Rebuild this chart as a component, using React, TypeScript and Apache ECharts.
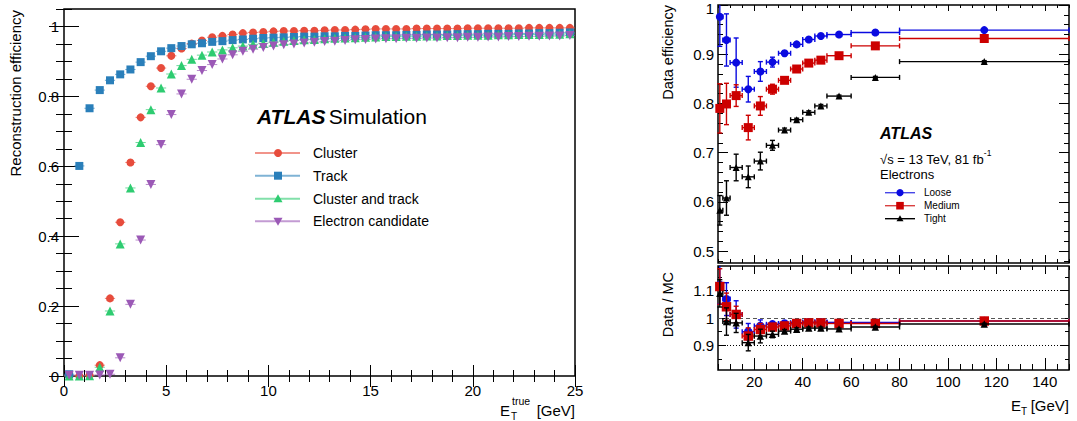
import React, { useEffect, useRef } from 'react';
import * as echarts from 'echarts';

const FONT = "'Liberation Sans', Arial, Helvetica, sans-serif";

// ---------------- Left panel: simulated reconstruction efficiency ----------------
const simBinStart = 0;
const simBinWidth = 0.5;
const simNames = ['Cluster', 'Track', 'Cluster and track', 'Electron candidate'];
const simColors = ['#e74c3c', '#2a7fba', '#2ecc71', '#9b59b6'];
const simLegendLineColors = ['#f1948a', '#7fb3d5', '#82e0aa', '#c39bd3'];
const simCluster = [
  0, 0, 0.002, 0.031, 0.222, 0.44, 0.611, 0.74, 0.829, 0.881,
  0.916, 0.937, 0.951, 0.96, 0.969, 0.973, 0.977, 0.981, 0.983, 0.984,
  0.986, 0.987, 0.987, 0.988, 0.988, 0.989, 0.99, 0.99, 0.991, 0.992,
  0.993, 0.993, 0.993, 0.993, 0.994, 0.994, 0.994, 0.994, 0.994, 0.995,
  0.995, 0.995, 0.995, 0.995, 0.995, 0.996, 0.996, 0.996, 0.996, 0.996,
];
const simTrack = [
  0.005, 0.601, 0.766, 0.818, 0.846, 0.863, 0.877, 0.898, 0.915, 0.929,
  0.938, 0.944, 0.949, 0.952, 0.956, 0.958, 0.961, 0.963, 0.965, 0.967,
  0.968, 0.969, 0.97, 0.971, 0.971, 0.972, 0.972, 0.973, 0.973, 0.974,
  0.975, 0.975, 0.975, 0.976, 0.976, 0.977, 0.977, 0.977, 0.978, 0.978,
  0.978, 0.979, 0.979, 0.979, 0.98, 0.98, 0.981, 0.981, 0.982, 0.983,
];
const simClusterTrack = [
  0, 0, 0.001, 0.025, 0.186, 0.378, 0.538, 0.668, 0.762, 0.824,
  0.864, 0.888, 0.906, 0.918, 0.927, 0.933, 0.939, 0.944, 0.949, 0.952,
  0.955, 0.958, 0.96, 0.962, 0.963, 0.965, 0.966, 0.967, 0.968, 0.969,
  0.97, 0.971, 0.971, 0.972, 0.972, 0.973, 0.973, 0.974, 0.974, 0.975,
  0.975, 0.975, 0.976, 0.976, 0.977, 0.977, 0.977, 0.978, 0.978, 0.979,
];
const simElectron = [
  0.002, 0.002, 0.002, 0.003, 0.005, 0.052, 0.205, 0.389, 0.548, 0.662,
  0.748, 0.807, 0.849, 0.874, 0.891, 0.907, 0.919, 0.929, 0.935, 0.94,
  0.944, 0.948, 0.95, 0.953, 0.955, 0.957, 0.958, 0.96, 0.962, 0.963,
  0.964, 0.965, 0.965, 0.966, 0.966, 0.967, 0.967, 0.968, 0.968, 0.969,
  0.969, 0.97, 0.97, 0.971, 0.971, 0.972, 0.972, 0.973, 0.973, 0.974,
];
const simValues = [simCluster, simTrack, simClusterTrack, simElectron];
const simSymbols = ['circle', 'rect', 'triangle', 'triangle'];
const simRotations = [0, 0, 0, 180];

// ---------------- Right panel: data efficiency and Data/MC ----------------
const etEdges = [4.5, 7, 10, 15, 20, 25, 30, 35, 40, 45, 50, 60, 80, 150];
const wpNames = ['Loose', 'Medium', 'Tight'];
const wpColors = ['#0a0ae0', '#cc0000', '#000000'];
const effLoose = [0.976, 0.929, 0.883, 0.829, 0.865, 0.884, 0.902, 0.92, 0.93, 0.937, 0.94, 0.944, 0.949];
const effLooseErr = [0.06, 0.053, 0.05, 0.026, 0.02, 0.01, 0.005, 0.004, 0.003, 0.003, 0.002, 0.002, 0.002];
const effMedium = [0.79, 0.799, 0.816, 0.751, 0.795, 0.829, 0.847, 0.87, 0.882, 0.888, 0.897, 0.917, 0.932];
const effMediumErr = [0.05, 0.042, 0.022, 0.025, 0.019, 0.01, 0.005, 0.004, 0.003, 0.003, 0.002, 0.002, 0.002];
const effTight = [0.583, 0.608, 0.67, 0.651, 0.683, 0.715, 0.746, 0.767, 0.782, 0.795, 0.815, 0.853, 0.885];
const effTightErr = [0.03, 0.035, 0.027, 0.022, 0.018, 0.01, 0.004, 0.003, 0.003, 0.003, 0.002, 0.002, 0.002];
const ratioLoose = [1.121, 1.069, 1.013, 0.95, 0.971, 0.977, 0.98, 0.983, 0.985, 0.985, 0.984, 0.984, 0.989];
const ratioLooseErr = [0.07, 0.06, 0.05, 0.03, 0.022, 0.01, 0.006, 0.004, 0.004, 0.003, 0.003, 0.003, 0.003];
const ratioMedium = [1.115, 1.041, 1.013, 0.934, 0.958, 0.967, 0.971, 0.98, 0.982, 0.982, 0.98, 0.98, 0.989];
const ratioMediumErr = [0.065, 0.05, 0.03, 0.03, 0.022, 0.012, 0.006, 0.005, 0.004, 0.003, 0.003, 0.003, 0.003];
const ratioTight = [1.09, 0.987, 0.982, 0.91, 0.934, 0.94, 0.952, 0.959, 0.963, 0.963, 0.96, 0.967, 0.978];
const ratioTightErr = [0.05, 0.05, 0.035, 0.03, 0.025, 0.012, 0.006, 0.005, 0.004, 0.004, 0.003, 0.003, 0.003];
const effValues = [effLoose, effMedium, effTight];
const effErrors = [effLooseErr, effMediumErr, effTightErr];
const ratioValues = [ratioLoose, ratioMedium, ratioTight];
const ratioErrors = [ratioLooseErr, ratioMediumErr, ratioTightErr];
const wpSymbols = ['circle', 'rect', 'triangle'];
const wpSizes = [8, 9, 7];
const ratioRefLines = [1.1, 1.0, 0.9];
const effTickLabels = [0.5, 0.6, 0.7, 0.8, 0.9, 1];

// ---------------- helpers ----------------
type AxSpec = {
  grid: number; min: number; max: number; major: number; minor: number;
  majorLen: number; minorLen: number; oppMajorLen: number; oppMinorLen: number;
  labels: boolean; labelStep?: number; fontSize?: number; margin?: number;
};

function fmtNum(v: number) {
  return String(parseFloat(v.toFixed(3)));
}

function multiplesIn(min: number, max: number, step: number) {
  const out: number[] = [];
  const k0 = Math.ceil(min / step - 1e-9);
  for (let k = k0; k * step <= max + 1e-9; k++) out.push(parseFloat((k * step).toFixed(6)));
  return out;
}

function buildAxes(dim: 'x' | 'y', s: AxSpec) {
  const sides = dim === 'x' ? ['bottom', 'top'] : ['left', 'right'];
  const mk = (pos: string, step: number, len: number, withLabels: boolean) => ({
    type: 'value',
    gridIndex: s.grid,
    position: pos,
    min: s.min,
    max: s.max,
    splitNumber: Math.max(1, Math.round((s.max - s.min) / step)),
    minInterval: step,
    maxInterval: step,
    axisLine: { show: false },
    splitLine: { show: false },
    minorTick: { show: false },
    axisTick: {
      show: true,
      inside: true,
      length: len,
      customValues: multiplesIn(s.min, s.max, step),
      lineStyle: { color: '#000', width: 1 },
    },
    axisLabel: withLabels
      ? {
          show: true,
          fontSize: s.fontSize || 15,
          fontFamily: FONT,
          color: '#000',
          margin: s.margin ?? 6,
          showMinLabel: true,
          showMaxLabel: true,
          hideOverlap: false,
          customValues: multiplesIn(s.min, s.max, s.labelStep as number),
          formatter: (v: number) => fmtNum(v),
        }
      : { show: false },
    axisPointer: { show: false },
    silent: true,
  });
  return [
    mk(sides[0], s.major, s.majorLen, s.labels),
    mk(sides[0], s.minor, s.minorLen, false),
    mk(sides[1], s.major, s.oppMajorLen, false),
    mk(sides[1], s.minor, s.oppMinorLen, false),
  ];
}

function makeErrRender(capPx: number, lineWidth: number, opacity: number) {
  return (params: any, api: any) => {
    const cs = params.coordSys;
    const xmin = cs.x, xmax = cs.x + cs.width, ymin = cs.y, ymax = cs.y + cs.height;
    const cx = (v: number) => Math.max(xmin, Math.min(xmax, v));
    const cy = (v: number) => Math.max(ymin, Math.min(ymax, v));
    const xc = api.value(0);
    const yv = api.value(1);
    const pc = api.coord([xc, yv]);
    const pxl = api.coord([api.value(2), yv])[0];
    const pxh = api.coord([api.value(3), yv])[0];
    const pyl = api.coord([xc, api.value(4)])[1];
    const pyh = api.coord([xc, api.value(5)])[1];
    const color = api.visual('color');
    const style = { stroke: color, lineWidth, opacity };
    const children: any[] = [];
    const xa = cx(pxl), xb = cx(pxh);
    children.push({ type: 'line', shape: { x1: xa, y1: pc[1], x2: xb, y2: pc[1] }, style });
    if (capPx > 0) {
      if (xa === pxl) children.push({ type: 'line', shape: { x1: xa, y1: pc[1] - capPx, x2: xa, y2: pc[1] + capPx }, style });
      if (xb === pxh) children.push({ type: 'line', shape: { x1: xb, y1: pc[1] - capPx, x2: xb, y2: pc[1] + capPx }, style });
    }
    const ya = cy(pyh), yb = cy(pyl);
    if (yb - ya > 0.5) {
      children.push({ type: 'line', shape: { x1: pc[0], y1: ya, x2: pc[0], y2: yb }, style });
      if (capPx > 0) {
        if (ya === pyh) children.push({ type: 'line', shape: { x1: pc[0] - capPx, y1: ya, x2: pc[0] + capPx, y2: ya }, style });
        if (yb === pyl) children.push({ type: 'line', shape: { x1: pc[0] - capPx, y1: yb, x2: pc[0] + capPx, y2: yb }, style });
      }
    }
    return { type: 'group', children };
  };
}

const GRID_RECTS = [
  { left: 64, top: 9, width: 511, height: 367 },
  { left: 718, top: 5, width: 351, height: 258 },
  { left: 718, top: 266, width: 351, height: 104 },
];

function buildGraphics() {
  const g: any[] = [];
  const txt = (x: number, y: number, text: string, fontSize: number, extra: any = {}, elExtra: any = {}) => ({
    type: 'text',
    x,
    y,
    ...elExtra,
    style: { text, fontSize, fontFamily: FONT, fill: '#000', textVerticalAlign: 'middle', ...extra },
  });

  // axis titles
  g.push(txt(15, 10, 'Reconstruction efficiency', 15, { textAlign: 'right' }, { rotation: Math.PI / 2 }));
  g.push(txt(668, 5, 'Data efficiency', 14.5, { textAlign: 'right' }, { rotation: Math.PI / 2 }));
  g.push(txt(668, 272, 'Data / MC', 14.5, { textAlign: 'right' }, { rotation: Math.PI / 2 }));
  // left x title E_T^true [GeV]
  g.push(txt(575, 410, '[GeV]', 15, { textAlign: 'right' }));
  g.push(txt(500, 410, 'E', 15, { textAlign: 'left' }));
  g.push(txt(512, 401, 'true', 10.5, { textAlign: 'left' }));
  g.push(txt(511, 416, 'T', 10, { textAlign: 'left' }));
  // right x title E_T [GeV]
  g.push(txt(1069, 405, '[GeV]', 15, { textAlign: 'right' }));
  g.push(txt(1011, 405, 'E', 15, { textAlign: 'left' }));
  g.push(txt(1021, 411, 'T', 10, { textAlign: 'left' }));

  // ATLAS Simulation label
  g.push({
    type: 'text',
    x: 257,
    y: 116,
    style: {
      text: '{a|ATLAS} {b|Simulation}',
      textVerticalAlign: 'middle',
      fill: '#000',
      rich: {
        a: { fontSize: 21, fontWeight: 'bold', fontStyle: 'italic', fontFamily: FONT, fill: '#000' },
        b: { fontSize: 21, fontFamily: FONT, fill: '#000' },
      },
    },
  });

  // left legend
  const simLegendY = [153, 175.7, 198.7, 221.3];
  simNames.forEach((name, s) => {
    const y = simLegendY[s];
    g.push({ type: 'line', shape: { x1: 255, y1: y, x2: 300, y2: y }, style: { stroke: simLegendLineColors[s], lineWidth: 2 } });
    const mx = 278;
    if (s === 0) g.push({ type: 'circle', shape: { cx: mx, cy: y, r: 4 }, style: { fill: simColors[s] } });
    if (s === 1) g.push({ type: 'rect', shape: { x: mx - 4, y: y - 4, width: 8, height: 8 }, style: { fill: simColors[s] } });
    if (s === 2) g.push({ type: 'polygon', shape: { points: [[mx, y - 4.5], [mx + 4.5, y + 3.5], [mx - 4.5, y + 3.5]] }, style: { fill: simColors[s] } });
    if (s === 3) g.push({ type: 'polygon', shape: { points: [[mx, y + 4.5], [mx + 4.5, y - 3.5], [mx - 4.5, y - 3.5]] }, style: { fill: simColors[s] } });
    g.push(txt(313, y, name, 14, { textAlign: 'left' }));
  });

  // right annotations
  g.push(txt(880, 133, 'ATLAS', 16, { textAlign: 'left', fontWeight: 'bold', fontStyle: 'italic' }));
  g.push({
    type: 'text',
    x: 880,
    y: 157,
    style: {
      text: '{m|\u221As = 13 TeV, 81 fb}{s|-1}',
      textVerticalAlign: 'middle',
      fill: '#000',
      rich: {
        m: { fontSize: 13, fontFamily: FONT, fill: '#000', lineHeight: 18, verticalAlign: 'bottom' },
        s: { fontSize: 8.5, fontFamily: FONT, fill: '#000', lineHeight: 18, verticalAlign: 'top' },
      },
    },
  });
  g.push(txt(880, 174.5, 'Electrons', 13, { textAlign: 'left' }));

  // right legend
  const wpLegendY = [192.7, 205.7, 218.7];
  wpNames.forEach((name, s) => {
    const y = wpLegendY[s];
    const col = wpColors[s];
    g.push({ type: 'line', shape: { x1: 885, y1: y, x2: 915, y2: y }, style: { stroke: col, lineWidth: 1.4, opacity: s === 2 ? 1 : 0.75 } });
    const mx = 900;
    if (s === 0) g.push({ type: 'circle', shape: { cx: mx, cy: y, r: 3.6 }, style: { fill: col } });
    if (s === 1) g.push({ type: 'rect', shape: { x: mx - 3.8, y: y - 3.8, width: 7.6, height: 7.6 }, style: { fill: col } });
    if (s === 2) g.push({ type: 'polygon', shape: { points: [[mx, y - 3.5], [mx + 3.5, y + 2.5], [mx - 3.5, y + 2.5]] }, style: { fill: col } });
    g.push(txt(924, y, name, 10, { textAlign: 'left' }));
  });
  return g;
}

function buildOption() {
  const grids = GRID_RECTS.map((g) => ({
    ...g,
    show: true,
    borderColor: '#000',
    borderWidth: 1.5,
    backgroundColor: 'transparent',
    containLabel: false,
  }));

  const xAxes = [
    ...buildAxes('x', { grid: 0, min: 0, max: 25, major: 5, minor: 1, majorLen: 11, minorLen: 6, oppMajorLen: 11, oppMinorLen: 6, labels: true, labelStep: 5, fontSize: 15, margin: 7 }),
    ...buildAxes('x', { grid: 1, min: 5, max: 150, major: 20, minor: 5, majorLen: 8, minorLen: 4, oppMajorLen: 6, oppMinorLen: 3, labels: false }),
    ...buildAxes('x', { grid: 2, min: 5, max: 150, major: 20, minor: 5, majorLen: 12, minorLen: 6, oppMajorLen: 8, oppMinorLen: 4, labels: true, labelStep: 20, fontSize: 15, margin: 4 }),
  ];
  const yAxes = [
    ...buildAxes('y', { grid: 0, min: 0, max: 1.05, major: 0.2, minor: 0.05, majorLen: 15, minorLen: 8, oppMajorLen: 15, oppMinorLen: 8, labels: true, labelStep: 0.2, fontSize: 15, margin: 5 }),
    // labels for this axis are placed from the axis scale after the first render (see App)
    ...buildAxes('y', { grid: 1, min: 0.476, max: 1.0, major: 0.1, minor: 0.02, majorLen: 10, minorLen: 5, oppMajorLen: 10, oppMinorLen: 5, labels: false }),
    ...buildAxes('y', { grid: 2, min: 0.81, max: 1.19, major: 0.1, minor: 0.05, majorLen: 8, minorLen: 4, oppMajorLen: 8, oppMinorLen: 4, labels: true, labelStep: 0.1, fontSize: 15, margin: 4 }),
  ];

  const series: any[] = [];

  // left panel
  const simCenters = simCluster.map((_, i) => simBinStart + simBinWidth * (i + 0.5));
  simValues.forEach((vals, s) => {
    series.push({
      type: 'custom',
      name: simNames[s] + ' err',
      xAxisIndex: 0,
      yAxisIndex: 0,
      silent: true,
      z: 2,
      itemStyle: { color: simColors[s] },
      renderItem: makeErrRender(0, 1, 0.7),
      data: vals.map((v, i) => [simCenters[i], v, simCenters[i] - simBinWidth / 2, simCenters[i] + simBinWidth / 2, v, v]),
    });
    series.push({
      type: 'scatter',
      name: simNames[s],
      xAxisIndex: 0,
      yAxisIndex: 0,
      z: 3,
      symbol: simSymbols[s],
      symbolRotate: simRotations[s],
      symbolSize: s === 0 ? 8 : s === 1 ? 8 : 9,
      itemStyle: { color: simColors[s], opacity: 1 },
      data: vals.map((v, i) => [simCenters[i], v]),
    });
  });

  // right panels
  const etCenters = etEdges.slice(0, -1).map((e, i) => (e + etEdges[i + 1]) / 2);
  const addPanel = (vals: number[][], errs: number[][], xi: number, yi: number, sizeScale: number) => {
    vals.forEach((arr, s) => {
      series.push({
        type: 'custom',
        name: wpNames[s] + ' err',
        xAxisIndex: xi,
        yAxisIndex: yi,
        silent: true,
        z: 2 + s * 2,
        itemStyle: { color: wpColors[s] },
        renderItem: makeErrRender(2.5, 1.4, 1),
        data: arr.map((v, i) => [etCenters[i], v, etEdges[i], etEdges[i + 1], v - errs[s][i], v + errs[s][i]]),
      });
      series.push({
        type: 'scatter',
        name: wpNames[s],
        xAxisIndex: xi,
        yAxisIndex: yi,
        z: 3 + s * 2,
        symbol: wpSymbols[s],
        symbolSize: wpSizes[s] * sizeScale,
        itemStyle: { color: wpColors[s], opacity: 1 },
        data: arr.map((v, i) => [etCenters[i], v]),
      });
    });
  };
  addPanel(effValues, effErrors, 4, 4, 1);
  addPanel(ratioValues, ratioErrors, 8, 8, 1.05);

  series.push({
    type: 'line',
    name: 'ref',
    xAxisIndex: 8,
    yAxisIndex: 8,
    z: 1,
    silent: true,
    data: [],
    markLine: {
      silent: true,
      symbol: 'none',
      label: { show: false },
      animation: false,
      data: ratioRefLines.map((v) => ({
        yAxis: v,
        lineStyle: v === 1 ? { type: [4, 3], color: '#555', width: 1 } : { type: [1, 2], color: '#000', width: 1 },
      })),
    },
  });

  return {
    animation: false,
    backgroundColor: '#ffffff',
    textStyle: { fontFamily: FONT },
    grid: grids,
    xAxis: xAxes,
    yAxis: yAxes,
    series,
    graphic: { elements: buildGraphics() },
  };
}

export default function App() {
  const ref = useRef<HTMLDivElement>(null);
  useEffect(() => {
    if (!ref.current) return;
    const chart = echarts.init(ref.current, null, { renderer: 'svg' });
    chart.setOption(buildOption() as any);
    // tick labels of the efficiency axis, positioned through that axis' own scale
    const labelEls = effTickLabels.map((v) => {
      const py = chart.convertToPixel({ yAxisIndex: 4 } as any, v) as unknown as number;
      return {
        type: 'text',
        x: GRID_RECTS[1].left - 4,
        y: Math.max(py, 8.5),
        style: { text: fmtNum(v), fontSize: 15, fontFamily: FONT, fill: '#000', textAlign: 'right', textVerticalAlign: 'middle' },
      };
    });
    chart.setOption({ graphic: { elements: [...buildGraphics(), ...labelEls] } } as any);
    return () => {
      chart.dispose();
    };
  }, []);
  return (
    <div
      ref={ref}
      style={{ position: 'absolute', left: 0, top: 0, width: 1077, height: 421, background: '#ffffff' }}
    />
  );
}
